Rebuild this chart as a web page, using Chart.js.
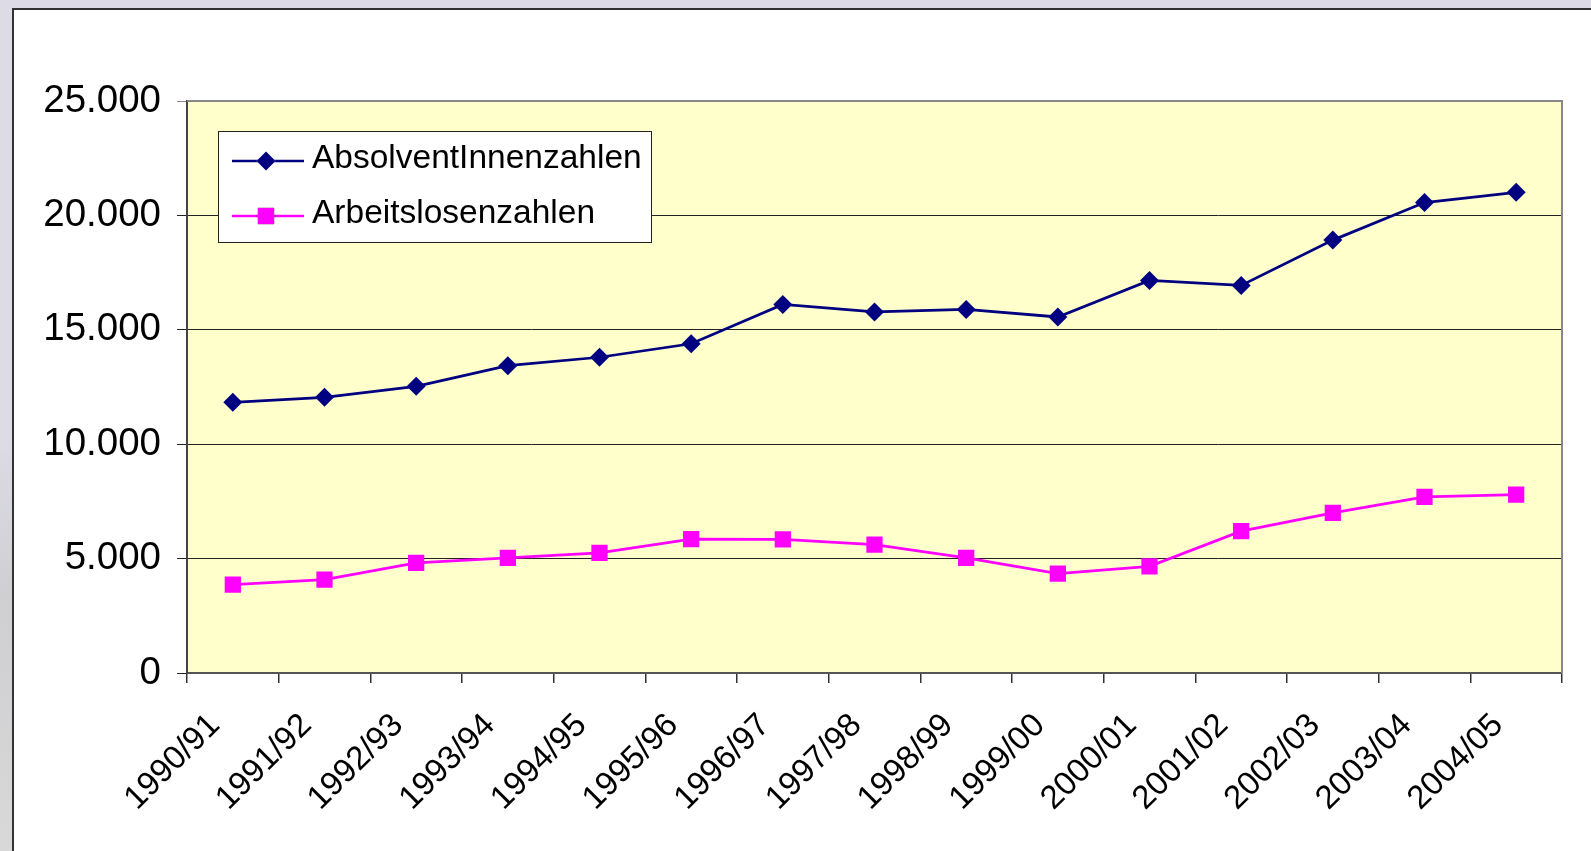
<!DOCTYPE html>
<html>
<head>
<meta charset="utf-8">
<script src="https://cdn.jsdelivr.net/npm/chart.js@4/dist/chart.umd.min.js"></script>
<style>
  html, body { margin: 0; padding: 0; width: 1591px; height: 851px; overflow: hidden; }
  body { background: linear-gradient(to bottom, #dcdbe6 0, #dcdbe6 52%, #cfcfd2 70%, #d8d8d8 100%); }
  #card { position: absolute; left: 12px; top: 8px; width: 1600px; height: 900px; background: #fff; border: 2px solid #333; }
  #chart { position: absolute; left: 0; top: 0; }
</style>
</head>
<body>
<div id="card"></div>
<canvas id="chart" width="1591" height="851"></canvas>
<script>
// DATA
const years = ["1990/91", "1991/92", "1992/93", "1993/94", "1994/95", "1995/96", "1996/97", "1997/98",
  "1998/99", "1999/00", "2000/01", "2001/02", "2002/03", "2003/04", "2004/05"];
const absolventen = [11830, 12050, 12530, 13430, 13800, 14390, 16110, 15780, 15890, 15560, 17160, 16940, 18920, 20560, 21010];
const arbeitslose = [3860, 4080, 4810, 5030, 5250, 5850, 5840, 5610, 5030, 4340, 4660, 6200, 7000, 7700, 7800];
const seriesNames = ["AbsolventInnenzahlen", "Arbeitslosenzahlen"];
const yMax = 25000;
const yStep = 5000;

const FONT = "'Liberation Sans', Arial, sans-serif";

function formatDE(v) {
  return String(v).replace(/\B(?=(\d{3})+(?!\d))/g, ".");
}

// plot background + grey frame (top, right)
const plotFrame = {
  id: "plotFrame",
  beforeDraw(chart) {
    const { ctx, chartArea: a } = chart;
    ctx.save();
    ctx.fillStyle = "#ffffcc";
    ctx.fillRect(a.left, a.top, a.right - a.left, a.bottom - a.top);
    ctx.restore();
  },
  beforeDatasetsDraw(chart) {
    const { ctx, chartArea: a } = chart;
    ctx.save();
    ctx.strokeStyle = "#888";
    ctx.lineWidth = 2;
    ctx.beginPath();
    ctx.moveTo(a.left, a.top);
    ctx.lineTo(a.right, a.top);
    ctx.lineTo(a.right, a.bottom);
    ctx.stroke();
    ctx.restore();
  }
};

// legend box inside the plot
const boxLegend = {
  id: "boxLegend",
  afterDraw(chart) {
    const { ctx } = chart;
    const box = { x: 218, y: 131, w: 433, h: 111 };
    ctx.save();
    ctx.fillStyle = "#fff";
    ctx.fillRect(box.x, box.y, box.w, box.h);
    ctx.strokeStyle = "#222";
    ctx.lineWidth = 1;
    ctx.strokeRect(box.x + 0.5, box.y + 0.5, box.w, box.h);
    chart.data.datasets.forEach((ds, i) => {
      const y = box.y + 30 + i * 55;
      ctx.strokeStyle = ds.borderColor;
      ctx.lineWidth = 2.5;
      ctx.beginPath();
      ctx.moveTo(box.x + 14, y);
      ctx.lineTo(box.x + 86, y);
      ctx.stroke();
      Chart.helpers.drawPoint(ctx, {
        pointStyle: ds.pointStyle,
        radius: ds.pointRadius,
        borderWidth: 0
      }, box.x + 48, y);
      ctx.fillStyle = ds.pointBackgroundColor;
      ctx.fill();
      ctx.fillStyle = "#000";
      ctx.font = "33.5px " + FONT;
      ctx.textBaseline = "middle";
      ctx.fillText(ds.label, box.x + 94, y - 2);
    });
    ctx.restore();
  }
};

const chart = new Chart(document.getElementById("chart"), {
  type: "line",
  data: {
    labels: years,
    datasets: [
      {
        label: seriesNames[0],
        data: absolventen,
        borderColor: "#000080",
        backgroundColor: "#000080",
        pointBackgroundColor: "#000080",
        pointBorderColor: "#000080",
        borderWidth: 2.75,
        pointStyle: "rectRot",
        pointRadius: 9.5,
        pointBorderWidth: 0,
        tension: 0
      },
      {
        label: seriesNames[1],
        data: arbeitslose,
        borderColor: "#ff00ff",
        backgroundColor: "#ff00ff",
        pointBackgroundColor: "#ff00ff",
        pointBorderColor: "#ff00ff",
        borderWidth: 2.75,
        pointStyle: "rect",
        pointRadius: 11.5,
        pointBorderWidth: 0,
        tension: 0
      }
    ]
  },
  options: {
    responsive: false,
    animation: false,
    layout: { padding: { left: 0, top: 101, right: 29, bottom: 0 } },
    plugins: {
      legend: { display: false },
      tooltip: { enabled: false }
    },
    scales: {
      x: {
        offset: true,
        grid: {
          offset: true,
          drawOnChartArea: false,
          drawTicks: true,
          tickLength: 10,
          color: "#333",
          lineWidth: 1.5
        },
        border: { display: true, color: "#555", width: 2 },
        ticks: {
          color: "#000",
          font: { family: FONT, size: 33 },
          minRotation: 45,
          maxRotation: 45,
          padding: 23,
          labelOffset: -18
        },
        afterFit(scale) { scale.height = 851 - 673; }
      },
      y: {
        min: 0,
        max: yMax,
        ticks: {
          stepSize: yStep,
          color: "#000",
          font: { family: FONT, size: 38.5 },
          padding: 16,
          callback: v => formatDE(v)
        },
        grid: {
          color: ctx => (ctx.tick && ctx.tick.value === yMax ? "#888" : "#222"),
          lineWidth: 1,
          tickLength: 10
        },
        border: { display: true, color: "#444", width: 2 },
        afterFit(scale) { scale.width = 187; }
      }
    }
  },
  plugins: [plotFrame, boxLegend]
});
</script>
</body>
</html>
